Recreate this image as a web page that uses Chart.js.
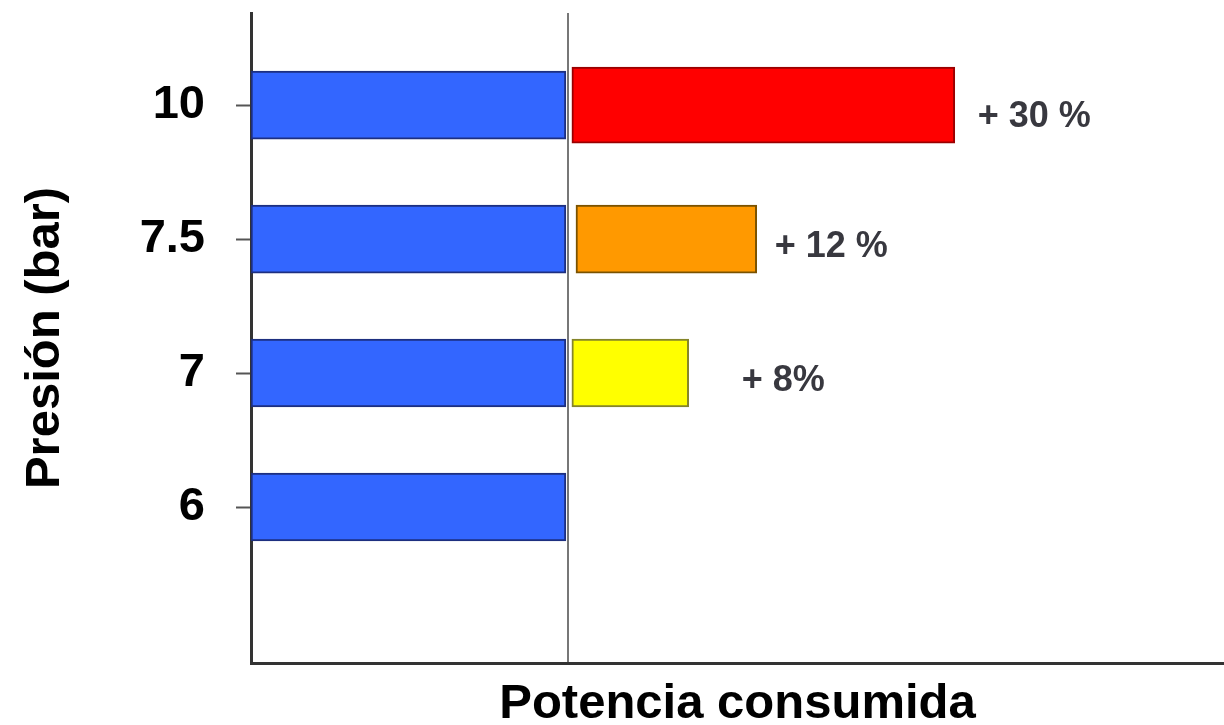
<!DOCTYPE html>
<html lang="es">
<head>
    <meta charset="UTF-8">
    <title>Presión vs potencia consumida</title>
    <script src="https://cdn.jsdelivr.net/npm/chart.js"></script>
</head>
<style>
    body { margin: 0; background: #fff; }
    .chart-container { width: 1224px; height: 725px; }
</style>
<body>
    <div class="chart-container">
        <canvas id="chart" width="1224" height="725"></canvas>
    </div>

    <script>
        // presiones (bar), de arriba a abajo
        const pressures = ['10', '7.5', '7', '6'];
        // potencia base (todas iguales)
        const basePower = [100, 100, 100, 100];
        // barras de exceso: [inicio, fin]
        const extraRed = [[101.9, 223.5], null, null, null];
        const extraOrange = [null, [103.2, 160.6], null, null];
        const extraYellow = [null, null, [101.9, 139], null];
        const extraLabels = ['+ 30 %', '+ 12 %', '+ 8%', ''];
        const refLine = 100.6;

        const FONT = "'Liberation Sans', Arial, sans-serif";

        // solo las filas que tienen barra
        function rows(values) {
            return values.map((v, i) => v === null ? null : { y: i, x: v }).filter(r => r !== null);
        }

        // texto "+ xx %" a la derecha de cada barra extra
        const labelGap = [23, 18, 53];
        const labelDy = [12, 8, 8];
        const percentLabels = {
            id: 'percentLabels',
            afterDatasetsDraw(chart) {
                const ctx = chart.ctx;
                ctx.save();
                ctx.font = 'bold 36px ' + FONT;
                ctx.fillStyle = '#38383f';
                ctx.textBaseline = 'middle';
                ctx.textAlign = 'left';
                for (let d = 1; d < chart.data.datasets.length; d++) {
                    const meta = chart.getDatasetMeta(d);
                    const data = chart.data.datasets[d].data;
                    meta.data.forEach((el, j) => {
                        const row = data[j].y;
                        if (!extraLabels[row]) return;
                        ctx.fillText(extraLabels[row], el.x + labelGap[row], el.y + labelDy[row]);
                    });
                }
                ctx.restore();
            }
        };

        const ctx = document.getElementById('chart').getContext('2d');
        new Chart(ctx, {
            type: 'bar',
            data: {
                datasets: [
                    { label: 'Base', data: rows(basePower), backgroundColor: '#3366ff', borderColor: '#1d2f80', borderWidth: 2, borderSkipped: false, barThickness: 68, grouped: false },
                    { label: '+30', data: rows(extraRed), backgroundColor: '#ff0000', borderColor: '#9a0000', borderWidth: 2, borderSkipped: false, barThickness: 76, grouped: false },
                    { label: '+12', data: rows(extraOrange), backgroundColor: '#ff9900', borderColor: '#7a5200', borderWidth: 2, borderSkipped: false, barThickness: 68, grouped: false },
                    { label: '+8', data: rows(extraYellow), backgroundColor: '#ffff00', borderColor: '#85852a', borderWidth: 2, borderSkipped: false, barThickness: 68, grouped: false }
                ]
            },
            options: {
                indexAxis: 'y',
                responsive: false,
                animation: false,
                layout: { padding: { top: 13, right: 0, left: 0, bottom: 0 } },
                plugins: {
                    legend: { display: false },
                    tooltip: { enabled: false }
                },
                scales: {
                    x: {
                        type: 'linear',
                        min: 0,
                        max: 309,
                        afterBuildTicks(scale) { scale.ticks = [{ value: refLine }]; },
                        afterFit(scale) {
                            scale.height = 62;
                            scale.paddingLeft = 0;
                            scale.paddingRight = 0;
                        },
                        ticks: { display: false },
                        grid: { color: '#777', lineWidth: 2, drawTicks: false },
                        border: { color: '#333', width: 3 },
                        title: {
                            display: true,
                            text: 'Potencia consumida',
                            color: '#000',
                            font: { family: FONT, size: 49, weight: 'bold', lineHeight: 0.85 },
                            padding: { top: 0, bottom: 0 }
                        }
                    },
                    y: {
                        type: 'linear',
                        reverse: true,
                        offset: false,
                        min: -0.687,
                        max: 4.164,
                        afterBuildTicks(scale) { scale.ticks = pressures.map((p, i) => ({ value: i })); },
                        afterFit(scale) {
                            scale.width = 251;
                            scale.paddingTop = 0;
                            scale.paddingBottom = 0;
                        },
                        ticks: {
                            callback: (v) => pressures[v],
                            color: '#000',
                            font: { family: FONT, size: 47, weight: 'bold' },
                            padding: 31
                        },
                        grid: { offset: false, drawOnChartArea: false, tickLength: 15, tickColor: '#555', tickWidth: 2 },
                        border: { color: '#333', width: 3 },
                        title: {
                            display: true,
                            text: 'Presión (bar)',
                            color: '#000',
                            font: { family: FONT, size: 49, weight: 'bold', lineHeight: 1.2 },
                            padding: { top: 16, bottom: 0 }
                        }
                    }
                }
            },
            plugins: [percentLabels]
        });
    </script>
</body>
</html>
